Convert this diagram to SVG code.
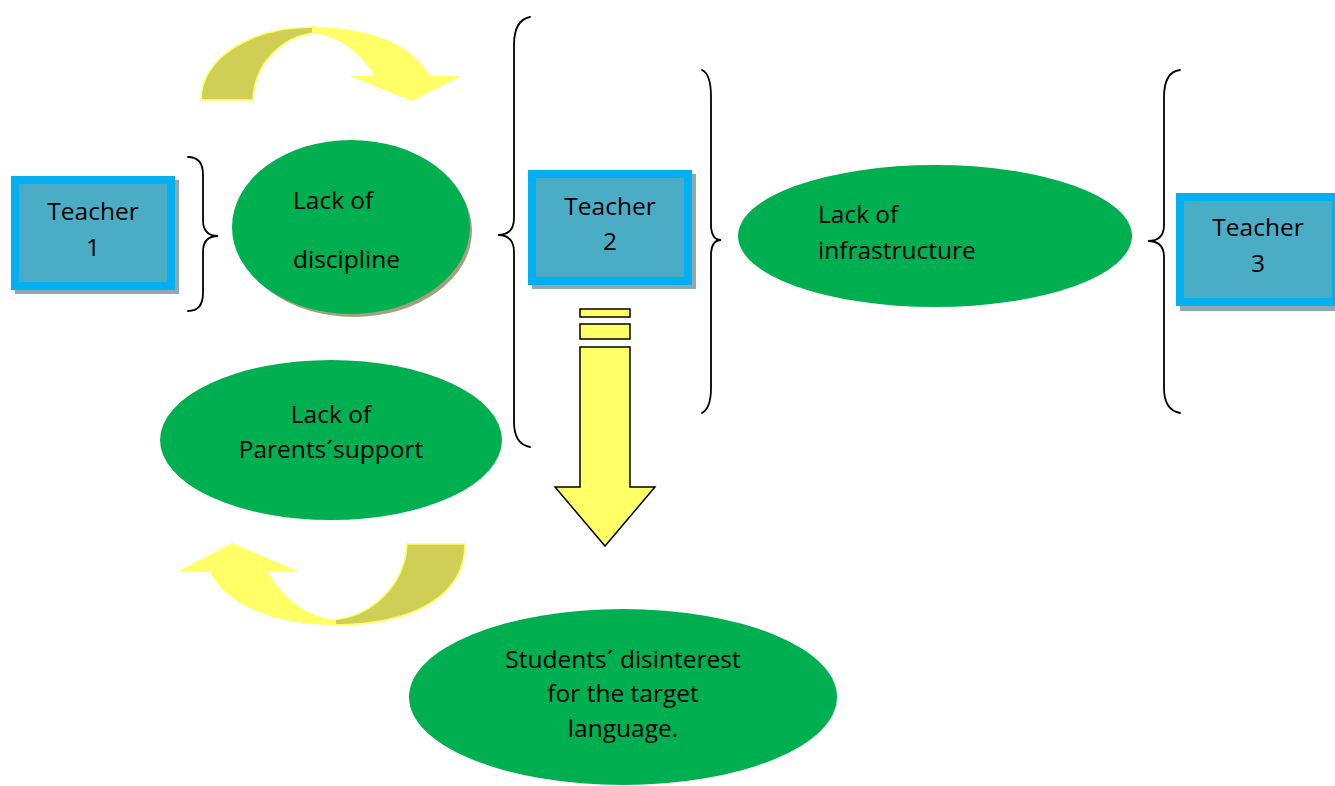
<svg xmlns="http://www.w3.org/2000/svg" width="1335" height="786" viewBox="0 0 1335 786">
<style>
.box{fill:#4BACC6;stroke:#00B0F0;stroke-width:8}
.shadow{fill:#8FA7AF}
.ell{fill:#00B050}
.t{font-family:"Open Sans","Liberation Sans",sans-serif;font-size:24.5px;fill:#000}
.c{text-anchor:middle}
.brace{fill:none;stroke:#000;stroke-width:1.8;stroke-linecap:round}
.dark{fill:#CFCF55;stroke:#FFFF66;stroke-width:1.5}
.yel{fill:#FFFF66}
.arr{fill:#FFFF66;stroke:#000;stroke-width:1.5}
</style>
<rect width="1335" height="786" fill="#fff"/>
<g id="connectors">
  <g id="curved-arrow-top">
    <path class="dark" d="M201,100 C201,58 250,27 315,27 L315,33 C282,36 254,64 253,100 Z"/>
    <path class="yel" d="M312,27 C372,27 414,46 430,76 L461,76 L412,101 L350,76 L375,76 C360,52 338,35 312,33 Z"/>
  </g>
  <g id="curved-arrow-bottom">
    <path class="dark" d="M465,544 C465,592 420,625 332,625 L332,620 C372,617 405,585 407,544 Z"/>
    <path class="yel" d="M336,625 C272,625 226,604 210,572 L177,572 L232,543 L300,572 L268,572 C284,600 308,617 336,620 Z"/>
  </g>
  <g id="down-arrow">
    <rect class="arr" x="580" y="309" width="50" height="8"/>
    <rect class="arr" x="580" y="324" width="50" height="15"/>
    <path class="arr" d="M580,347 L630,347 L630,487 L655,487 L605,546 L555,487 L580,487 Z"/>
  </g>
  <path class="brace" d="M188,157 Q203,157 203,175 L203,220 Q203,236 218,236 Q203,236 203,252 L203,293 Q203,311 188,311"/>
  <path class="brace" d="M530,17 Q514,20 514,45 L514,218 Q514,235 498,235 Q514,235 514,252 L514,422 Q514,444 530,447"/>
  <path class="brace" d="M702,70 Q711,74 711,97 L711,224 Q711,240 721,240 Q711,240 711,256 L711,388 Q711,408 702,413"/>
  <path class="brace" d="M1180,70 Q1164,72 1164,97 L1164,225 Q1164,241 1148,241 Q1164,241 1164,257 L1164,388 Q1164,410 1180,413"/>
</g>
<g id="teacher1">
  <rect class="shadow" x="15" y="180" width="164" height="114"/>
  <rect class="box" x="15" y="180" width="156" height="106"/>
  <text class="t c" x="93" y="220">Teacher</text>
  <text class="t c" x="93" y="256">1</text>
</g>
<g id="teacher2">
  <rect class="shadow" x="532" y="174" width="164" height="115"/>
  <rect class="box" x="532" y="174" width="156" height="107"/>
  <text class="t c" x="610" y="215">Teacher</text>
  <text class="t c" x="610" y="250">2</text>
</g>
<g id="teacher3">
  <rect class="shadow" x="1180" y="197" width="164" height="114"/>
  <rect class="box" x="1180" y="197" width="156" height="105"/>
  <text class="t c" x="1258" y="236">Teacher</text>
  <text class="t c" x="1258" y="272">3</text>
</g>
<g id="lack-discipline">
  <ellipse cx="354" cy="231" rx="118" ry="86" fill="#A3A27F"/>
  <ellipse class="ell" cx="351" cy="227" rx="119" ry="87"/>
  <text class="t" x="293" y="209">Lack of</text>
  <text class="t" x="293" y="268">discipline</text>
</g>
<g id="lack-parents">
  <ellipse class="ell" cx="331" cy="440" rx="171" ry="80"/>
  <text class="t c" x="331" y="423">Lack of</text>
  <text class="t c" x="331" y="458">Parents´support</text>
</g>
<g id="lack-infrastructure">
  <ellipse class="ell" cx="935" cy="236" rx="197" ry="71"/>
  <text class="t" x="818" y="223">Lack of</text>
  <text class="t" x="818" y="259">infrastructure</text>
</g>
<g id="students">
  <ellipse class="ell" cx="623" cy="697" rx="214" ry="88"/>
  <text class="t c" x="623" y="668">Students´ disinterest</text>
  <text class="t c" x="623" y="702">for the target</text>
  <text class="t c" x="623" y="737">language.</text>
</g>
</svg>
